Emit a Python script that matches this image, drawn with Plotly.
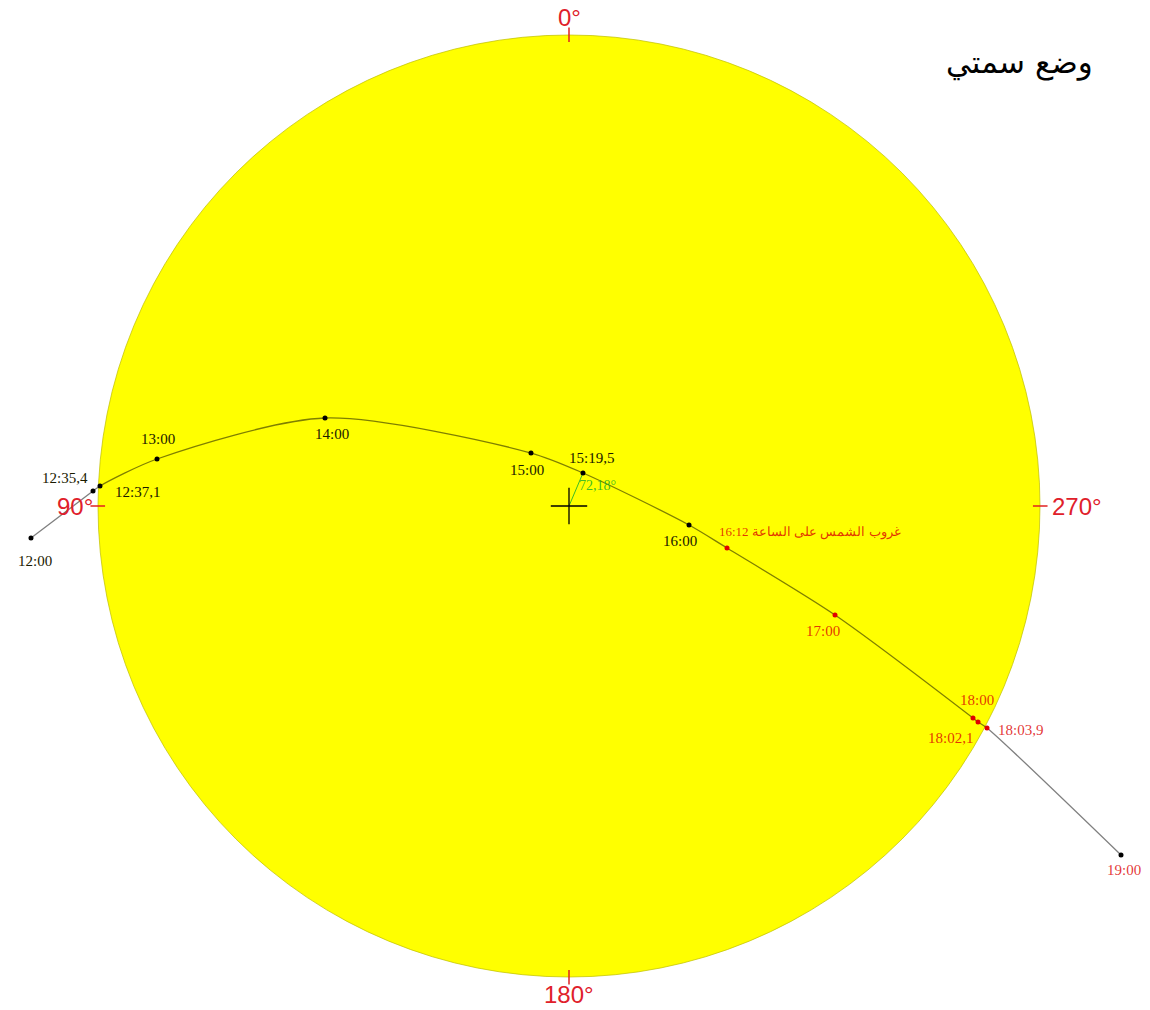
import math
import plotly.graph_objects as go

# ---- data (positions in solar radii, east to the left, north up) ----
times = ["12:00", "12:35,4", "12:37,1", "13:00", "14:00", "15:00", "15:19,5",
         "16:00", "16:12", "17:00", "18:00", "18:02,1", "18:03,9", "19:00"]
x_pos = [-1.1423, -1.0106, -0.9958, -0.8747, -0.5180, -0.0807, 0.0297,
         0.2548, 0.3355, 0.5648, 0.8577, 0.8684, 0.8875, 1.1720]
y_pos = [-0.0679, 0.0318, 0.0425, 0.0998, 0.1868, 0.1125, 0.0701,
         -0.0403, -0.0892, -0.2314, -0.4501, -0.4586, -0.4713, -0.7410]
after_sunset = [False, False, False, False, False, False, False,
                False, True, True, True, True, True, True]
sunset_label = "غروب الشمس على الساعة 16:12"
min_dist_label = "72,18°"
min_dist_time = "15:19,5"
dir_angles = [0, 90, 180, 270]
dir_labels = ["0°", "90°", "180°", "270°"]
title = "وضع سمتي"

# ---- styles ----
RED = "rgba(220,0,0,0.8)"
BLACK_TXT = "#1a1a00"
# label offsets in pixels (xshift, yshift)
label_shift = [(4, -23), (-28, 13), (38, -6), (1, 20), (7, -16), (-4, -17), (9, 15),
               (-9, -16), (83, 16), (-12, -16), (4, 18), (-28, -16), (33, -2), (3, -15)]

fig = go.Figure()

# Solar disk
fig.add_shape(type="circle", x0=-1, y0=-1, x1=1, y1=1, xref="x", yref="y",
              fillcolor="#FFFF00", line=dict(color="rgba(190,190,0,0.7)", width=1), layer="below")

# Path
fig.add_trace(go.Scatter(x=x_pos, y=y_pos, mode="lines",
                         line=dict(color="rgba(0,0,0,0.5)", width=1.3, shape="spline", smoothing=0.8),
                         hoverinfo="skip", showlegend=False))

# Minimum distance line (center -> point)
k = times.index(min_dist_time)
fig.add_trace(go.Scatter(x=[0, x_pos[k]], y=[0, y_pos[k]], mode="lines",
                         line=dict(color="rgba(40,180,40,0.9)", width=1),
                         hoverinfo="skip", showlegend=False))

# Center cross
fig.add_trace(go.Scatter(x=[0], y=[0], mode="markers",
                         marker=dict(symbol="cross-thin", size=26, line=dict(color="black", width=1.3)),
                         hoverinfo="skip", showlegend=False))

# Points
pt_colors = []
for i, t in enumerate(times):
    if t == "19:00" or not after_sunset[i]:
        pt_colors.append("black")
    else:
        pt_colors.append("#e00000")
fig.add_trace(go.Scatter(x=x_pos, y=y_pos, mode="markers",
                         marker=dict(size=5, color=pt_colors),
                         hoverinfo="skip", showlegend=False))

# Time labels
for i, t in enumerate(times):
    is_sunset = (t == "16:12")
    txt = sunset_label if is_sunset else t
    col = RED if after_sunset[i] else BLACK_TXT
    dx, dy = label_shift[i]
    fig.add_annotation(x=x_pos[i], y=y_pos[i], text=txt, showarrow=False,
                       xshift=dx, yshift=dy,
                       font=dict(family="Liberation Serif, DejaVu Serif, serif",
                                 size=13 if is_sunset else 15, color=col))

# Minimum-distance value
fig.add_annotation(x=x_pos[k], y=y_pos[k], text=min_dist_label, showarrow=False,
                   xshift=15, yshift=-13,
                   font=dict(family="Liberation Serif, serif", size=14, color="rgba(40,180,40,0.9)"))

# Direction ticks and labels
for ang, lab in zip(dir_angles, dir_labels):
    # angle measured counter-clockwise from north (90 = east = left)
    ux = -math.sin(math.radians(ang))
    uy = math.cos(math.radians(ang))
    fig.add_shape(type="line", x0=ux * 0.985, y0=uy * 0.985, x1=ux * 1.016, y1=uy * 1.016,
                  xref="x", yref="y", line=dict(color="#e02020", width=1.5))
    if ang == 0:
        kw = dict(xanchor="center", yanchor="bottom", yshift=2)
    elif ang == 180:
        kw = dict(xanchor="center", yanchor="top", yshift=-2)
    elif ang == 90:
        kw = dict(xanchor="right", yanchor="middle", xshift=-3)
    else:
        kw = dict(xanchor="left", yanchor="middle", xshift=10)
    fig.add_annotation(x=ux, y=uy, text=lab, showarrow=False,
                       font=dict(family="Liberation Sans, Arial, sans-serif", size=24, color="#e0202a"),
                       **kw)

# Title
fig.add_annotation(x=0.952, y=0.958, xref="paper", yref="paper", text=title, showarrow=False,
                   font=dict(family="DejaVu Sans, sans-serif", size=31, color="black"))

fig.update_xaxes(range=[-569 / 471, 581 / 471], visible=False, showgrid=False, zeroline=False)
fig.update_yaxes(range=[-504 / 471, 506 / 471], visible=False, showgrid=False, zeroline=False)
fig.update_layout(width=1150, height=1010, margin=dict(l=0, r=0, t=0, b=0),
                  paper_bgcolor="white", plot_bgcolor="white")

fig.write_html("out.html", config={"displayModeBar": False},
               post_script="document.body.style.margin='0';document.body.style.overflow='hidden';")
